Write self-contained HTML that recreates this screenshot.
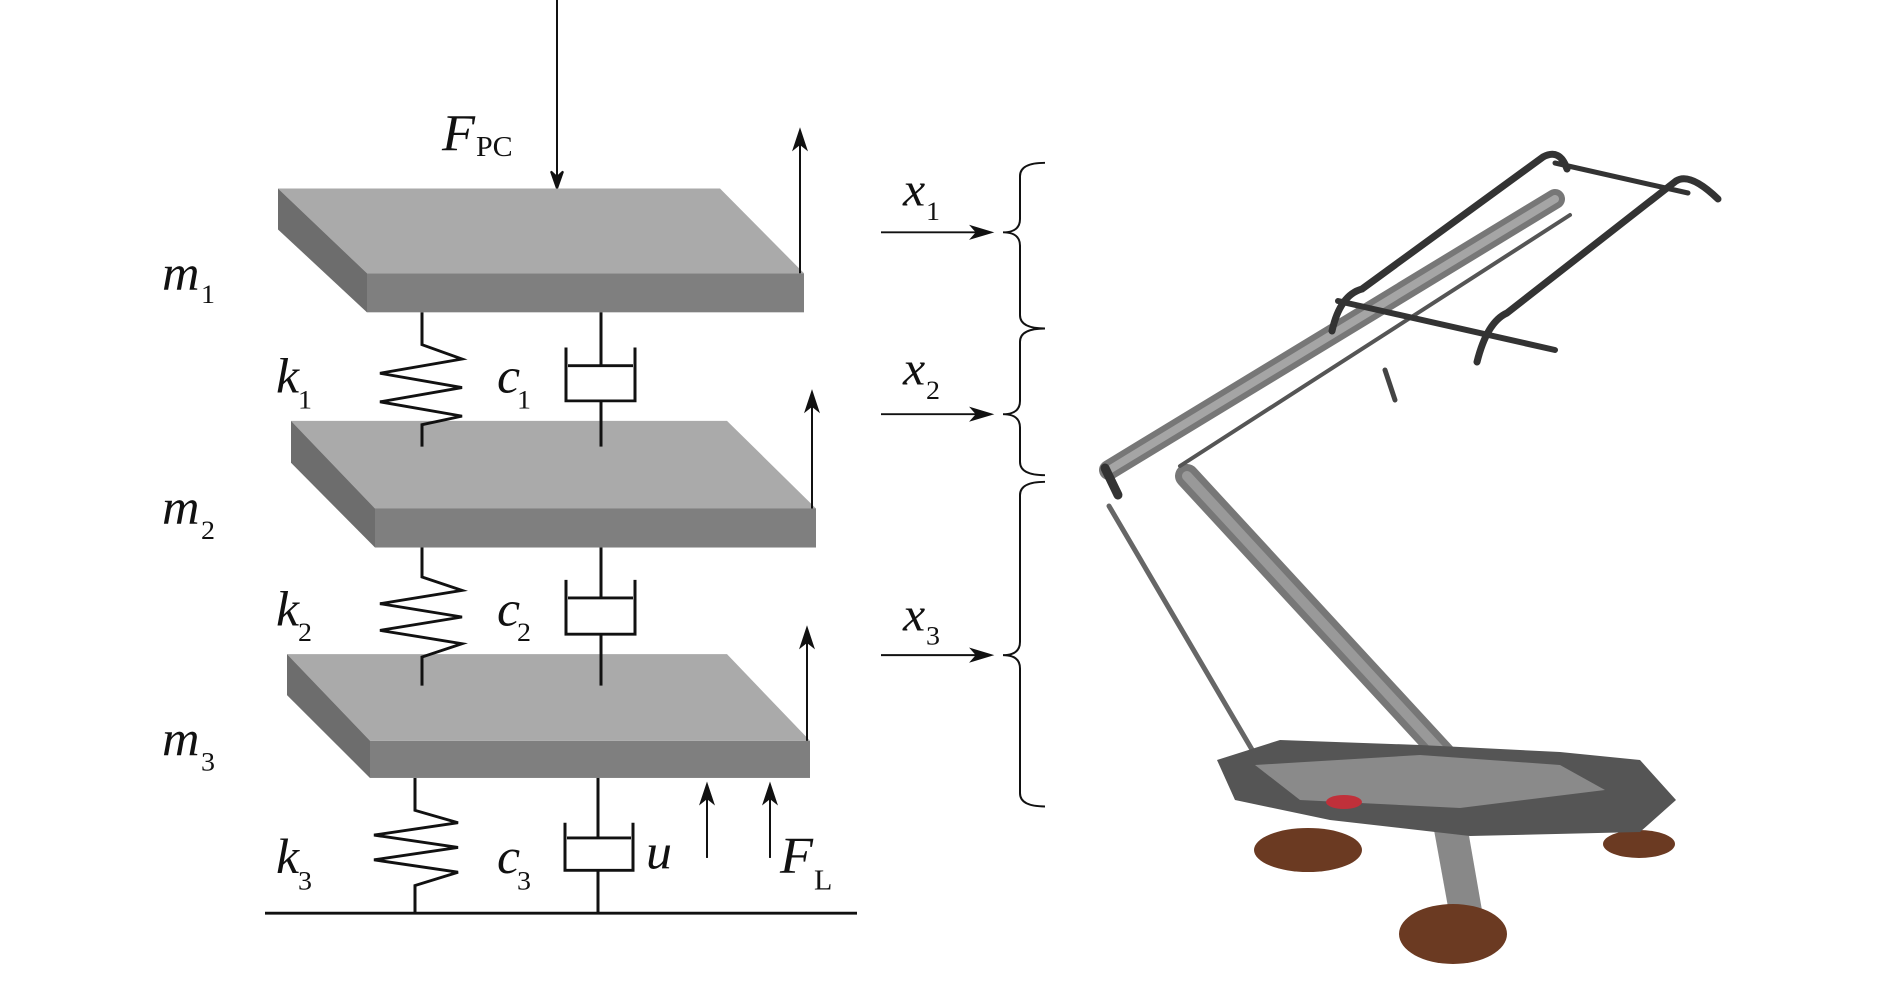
<!DOCTYPE html>
<html><head><meta charset="utf-8"><style>
html,body{margin:0;padding:0;background:#fff;}
svg{display:block;}
text{font-family:"Liberation Serif",serif;fill:#111;}
.it{font-style:italic;}
</style></head><body>
<svg width="1890" height="1000" viewBox="0 0 1890 1000" xmlns="http://www.w3.org/2000/svg">
<g transform="scale(1,0.9522)">
<g stroke="#111" stroke-width="2" fill="none">
<line x1="557" y1="0" x2="557" y2="198"/>
<path d="M551,180 L557,198 L563,180 L557,186z" fill="#111"/>
</g>
<g>
<polygon points="278,198 720,198 804,287 367,287" fill="#aaaaaa"/>
<polygon points="278,198 367,287 367,328 278,241" fill="#6d6d6d"/>
<rect x="367" y="287" width="437" height="41" fill="#7f7f7f"/>
<polygon points="291,442 727,442 816,534 375,534" fill="#aaaaaa"/>
<polygon points="291,442 375,534 375,575 291,486" fill="#6d6d6d"/>
<rect x="375" y="534" width="441" height="41" fill="#7f7f7f"/>
<polygon points="287,687 727,687 810,778 370,778" fill="#aaaaaa"/>
<polygon points="287,687 370,778 370,817 287,730" fill="#6d6d6d"/>
<rect x="370" y="778" width="440" height="39" fill="#7f7f7f"/>
</g>
<g stroke="#111" stroke-width="3" fill="none" stroke-linejoin="miter">
<polyline points="422,328 422,362 462,377 380,392 462,407 380,422 462,437 422,446 422,469"/>
<polyline points="422,575 422,606 462,620 380,634 462,648 380,662 462,676 422,690 422,720"/>
<polyline points="415,817 415,851 458,864 374,877 458,890 374,903 458,916 415,930 415,959"/>
<line x1="601" y1="328" x2="601" y2="384"/>
<polyline points="566,365 566,421 635,421 635,365"/>
<line x1="568" y1="384" x2="633" y2="384"/>
<line x1="601" y1="421" x2="601" y2="469"/>
<line x1="601" y1="575" x2="601" y2="628"/>
<polyline points="566,609 566,666 635,666 635,609"/>
<line x1="568" y1="628" x2="633" y2="628"/>
<line x1="601" y1="666" x2="601" y2="720"/>
<line x1="598" y1="817" x2="598" y2="880"/>
<polyline points="565,864 565,914 633,914 633,864"/>
<line x1="567" y1="880" x2="631" y2="880"/>
<line x1="598" y1="914" x2="598" y2="959"/>
<line x1="265" y1="959" x2="857" y2="959"/>
</g>
<g stroke="#111" stroke-width="2">
<line x1="800" y1="287" x2="800" y2="140"/>
<path d="M794,156 L800,137 L806,156 L800,151z" fill="#111"/>
<line x1="812" y1="534" x2="812" y2="415"/>
<path d="M806,431 L812,412 L818,431 L812,426z" fill="#111"/>
<line x1="807" y1="778" x2="807" y2="663"/>
<path d="M801,679 L807,660 L813,679 L807,674z" fill="#111"/>
<line x1="707" y1="901" x2="707" y2="827"/>
<path d="M701,843 L707,824 L713,843 L707,838z" fill="#111"/>
<line x1="770" y1="901" x2="770" y2="827"/>
<path d="M764,843 L770,824 L776,843 L770,838z" fill="#111"/>
<line x1="881" y1="244" x2="988" y2="244"/>
<path d="M972,238 L991,244 L972,250 L977,244z" fill="#111"/>
<line x1="881" y1="435" x2="988" y2="435"/>
<path d="M972,429 L991,435 L972,441 L977,435z" fill="#111"/>
<line x1="881" y1="688" x2="988" y2="688"/>
<path d="M972,682 L991,688 L972,694 L977,688z" fill="#111"/>
</g>
<g stroke="#111" stroke-width="2" fill="none">
<path d="M1045,171 Q1020,171 1020,185 L1020,230 Q1020,244 1003,244 Q1020,244 1020,258 L1020,331 Q1020,345 1045,345"/>
<path d="M1045,345 Q1020,345 1020,359 L1020,421 Q1020,435 1003,435 Q1020,435 1020,449 L1020,485 Q1020,499 1045,499"/>
<path d="M1045,506 Q1020,506 1020,520 L1020,674 Q1020,688 1003,688 Q1020,688 1020,702 L1020,833 Q1020,847 1045,847"/>
</g>
<text x="442" y="158" font-size="54" class="it">F</text><text x="476" y="164" font-size="30">PC</text>
<text x="162" y="304" font-size="52" class="it">m</text><text x="201" y="318" font-size="28">1</text>
<text x="162" y="550" font-size="52" class="it">m</text><text x="201" y="566" font-size="28">2</text>
<text x="162" y="793" font-size="52" class="it">m</text><text x="201" y="809" font-size="28">3</text>
<text x="276" y="412" font-size="52" class="it">k</text><text x="298" y="429" font-size="28">1</text>
<text x="276" y="657" font-size="52" class="it">k</text><text x="298" y="673" font-size="28">2</text>
<text x="276" y="917" font-size="52" class="it">k</text><text x="298" y="934" font-size="28">3</text>
<text x="497" y="412" font-size="52" class="it">c</text><text x="517" y="429" font-size="28">1</text>
<text x="497" y="657" font-size="52" class="it">c</text><text x="517" y="673" font-size="28">2</text>
<text x="497" y="917" font-size="52" class="it">c</text><text x="517" y="934" font-size="28">3</text>
<text x="646" y="912" font-size="52" class="it">u</text>
<text x="780" y="917" font-size="54" class="it">F</text><text x="814" y="934" font-size="30">L</text>
<text x="903" y="216" font-size="50" class="it">x</text><text x="926" y="231" font-size="28">1</text>
<text x="903" y="404" font-size="50" class="it">x</text><text x="926" y="419" font-size="28">2</text>
<text x="903" y="662" font-size="50" class="it">x</text><text x="926" y="677" font-size="28">3</text>
</g>
<!-- pantograph -->
<g stroke-linecap="round" fill="none">
<line x1="1109" y1="506" x2="1254" y2="753" stroke="#666" stroke-width="5"/>
<line x1="1187" y1="476" x2="1459" y2="771" stroke="#777" stroke-width="24"/>
<line x1="1187" y1="476" x2="1459" y2="771" stroke="#999" stroke-width="10"/>
<line x1="1109" y1="470" x2="1555" y2="199" stroke="#777" stroke-width="20"/>
<line x1="1109" y1="470" x2="1555" y2="199" stroke="#a5a5a5" stroke-width="8"/>
<line x1="1180" y1="466" x2="1570" y2="215" stroke="#555" stroke-width="4"/>
<path d="M1332,331 Q1340,295 1362,289 L1543,157 Q1560,148 1567,169" stroke="#333" stroke-width="7"/>
<path d="M1477,362 Q1487,322 1507,313 L1676,181 Q1690,172 1718,199" stroke="#333" stroke-width="7"/>
<path d="M1338,301 L1555,350" stroke="#333" stroke-width="6"/>
<path d="M1555,163 L1688,193" stroke="#333" stroke-width="5"/>
<path d="M1385,370 L1395,400" stroke="#444" stroke-width="5"/>
<line x1="1105" y1="468" x2="1118" y2="495" stroke="#333" stroke-width="9"/>
</g>
<g>
<ellipse cx="1308" cy="850" rx="54" ry="22" fill="#6b3a22"/>
<ellipse cx="1639" cy="844" rx="36" ry="14" fill="#6b3a22"/>
<polygon points="1434,830 1468,830 1483,916 1450,918" fill="#888"/>
<ellipse cx="1453" cy="934" rx="54" ry="30" fill="#6b3a22"/>
<polygon points="1217,760 1280,740 1420,745 1560,752 1640,760 1676,800 1640,832 1470,836 1330,820 1235,800" fill="#555"/>
<polygon points="1255,765 1420,755 1560,765 1605,790 1460,808 1300,800" fill="#8a8a8a"/>
<ellipse cx="1344" cy="802" rx="18" ry="7" fill="#c0303a"/>
</g>
</svg>
</body></html>
